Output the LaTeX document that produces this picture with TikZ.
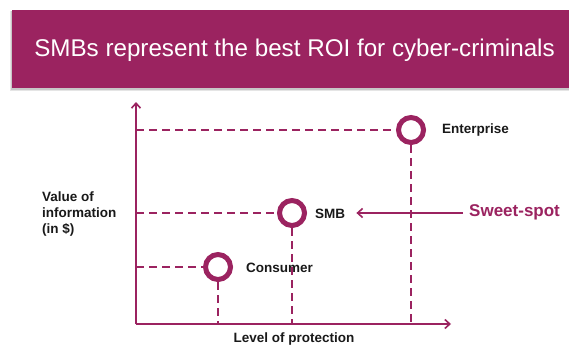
\documentclass[tikz,border=0pt]{standalone}
\usepackage{fontspec}
\setmainfont{Liberation Sans}
\usetikzlibrary{arrows.meta}
\definecolor{maroon}{HTML}{9B2360}
\tikzset{
  axis/.style={draw=maroon, line width=2pt, -{Straight Barb[length=5pt,width=9pt,line width=1.6pt]}},
  guide/.style={draw=maroon, line width=1.8pt, dash pattern=on 8pt off 5pt},
  dot/.style={circle, draw=maroon, fill=white, line width=5pt, minimum size=25pt, inner sep=0pt},
  lbl/.style={font=\fontsize{13.5}{16}\selectfont\bfseries, text=black!90, inner sep=0pt},
  title/.style={font=\fontsize{24.2}{28}\selectfont, text=white, inner sep=0pt},
}
\begin{document}
\begin{tikzpicture}[x=1pt,y=-1pt]
\useasboundingbox (0,0) rectangle (569,345);
\fill[white] (0,0) rectangle (569,345);
% banner with shadow
\fill[black!10] (10,11) rectangle (569,91);
\fill[black!22] (11,11) rectangle (569,89.5);
\fill[maroon] (12,10) rectangle (569,88);
\node[title] (ttl) at (294.5,50) {SMBs represent the best ROI for cyber-criminals};
% axes
\coordinate (o) at (136,324);
\coordinate (ytop) at (136,102);
\coordinate (xend) at (451,324);
\draw[axis] (o) -- (ytop);
\draw[axis] (o) -- (xend);
% points
\node[dot] (con) at (218,267) {};
\node[dot] (smb) at (292,213) {};
\node[dot] (ent) at (411,130) {};
% guides
\draw[guide] (o |- con) -- (con.west);
\draw[guide] (o |- smb) -- (smb.west);
\draw[guide] (o |- ent) -- (ent.west);
\draw[guide] (con.south) -- (con |- o);
\draw[guide] (smb.south) -- (smb |- o);
\draw[guide] (ent.south) -- (ent |- o);
% labels
\node[lbl, anchor=west] (conl) at (246,267.5) {Consumer};
\node[lbl, anchor=west] (smbl) at (315,213.5) {SMB};
\node[lbl, anchor=west] (entl) at (442,130.5) {Enterprise};
\node[lbl, anchor=west, align=left] (yl) at (42,214) {Value of\\information\\(in \$)};
\node[lbl] (xl) at (294,339) {Level of protection};
\node[font=\fontsize{17}{20}\selectfont\bfseries, text=maroon, anchor=west, inner sep=0pt] (sweet) at (469,212) {Sweet-spot};
\draw[draw=maroon, line width=2pt, -{Straight Barb[length=5pt,width=9pt,line width=1.6pt]}, shorten <=6pt, shorten >=11pt] (sweet.west |- smb) -- (smbl.east |- smb);
\end{tikzpicture}
\end{document}
